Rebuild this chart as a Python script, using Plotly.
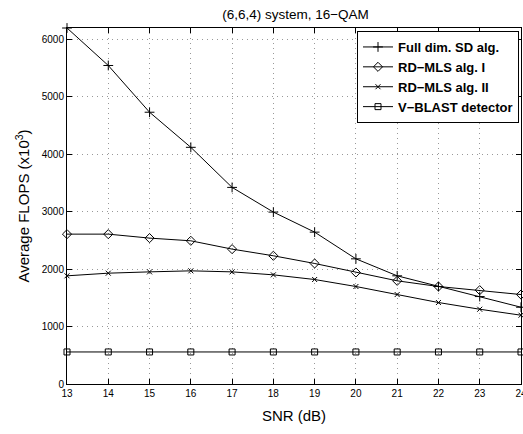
import plotly.graph_objects as go

snr = [13, 14, 15, 16, 17, 18, 19, 20, 21, 22, 23, 24]
full_sd = [6200, 5547, 4733, 4122, 3424, 2994, 2645, 2180, 1884, 1698, 1523, 1337]
rdmls1 = [2610, 2610, 2541, 2494, 2349, 2233, 2099, 1942, 1797, 1698, 1634, 1558]
rdmls2 = [1884, 1930, 1953, 1971, 1953, 1901, 1820, 1698, 1558, 1419, 1302, 1198]
vblast = [558] * 12

names = ["Full dim. SD alg.", "RD\u2212MLS alg. I", "RD\u2212MLS alg. II", "V\u2212BLAST detector"]
series = [full_sd, rdmls1, rdmls2, vblast]
symbols = ["cross-thin-open", "diamond-open", "x-thin-open", "square-open"]
sizes = [7, 7, 5, 6]

fig = go.Figure()
for n, s, sym, sz in zip(names, series, symbols, sizes):
    fig.add_trace(go.Scatter(
        x=snr, y=s, name=n, mode="lines+markers",
        line=dict(color="black", width=1),
        marker=dict(symbol=sym, size=sz, color="black", line=dict(color="black", width=1)),
        cliponaxis=False,
    ))

font = "Liberation Sans, Arial, Helvetica, sans-serif"
grid = dict(showgrid=True, gridcolor="#999", griddash="1px,4px", gridwidth=1)
fig.update_layout(
    width=523, height=434,
    margin=dict(l=67, r=2, t=28, b=50, autoexpand=False),
    paper_bgcolor="white", plot_bgcolor="white",
    font=dict(family=font, color="black"),
    title=dict(text="(6,6,4) system, 16\u2212QAM", x=0.565, xanchor="center", y=0.968, yanchor="middle",
               font=dict(size=13.5)),
    showlegend=True,
    legend=dict(x=0.9956, y=0.9916, xanchor="right", yanchor="top",
                bordercolor="black", borderwidth=1, bgcolor="white",
                font=dict(size=13, family="Liberation Sans, Arial", weight="bold"),
                tracegroupgap=0, itemwidth=30),
    xaxis=dict(range=[13, 24], tickvals=snr, ticktext=[str(v) for v in snr],
               title=dict(text="SNR (dB)", font=dict(size=15), standoff=12),
               showline=True, linecolor="black", linewidth=1, mirror="ticks",
               ticks="inside", ticklen=5, tickcolor="black",
               ticklabeloverflow="allow", automargin=False,
               tickfont=dict(size=10), zeroline=False, **grid),
    yaxis=dict(range=[0, 6200], tickvals=[0, 1000, 2000, 3000, 4000, 5000, 6000],
               title=dict(text="Average FLOPS (x10<sup>3</sup>)", font=dict(size=15), standoff=8),
               showline=True, linecolor="black", linewidth=1, mirror="ticks",
               ticks="inside", ticklen=5, tickcolor="black", automargin=False,
               tickfont=dict(size=10), zeroline=False, **grid),
)

fig.write_html("out.html")
